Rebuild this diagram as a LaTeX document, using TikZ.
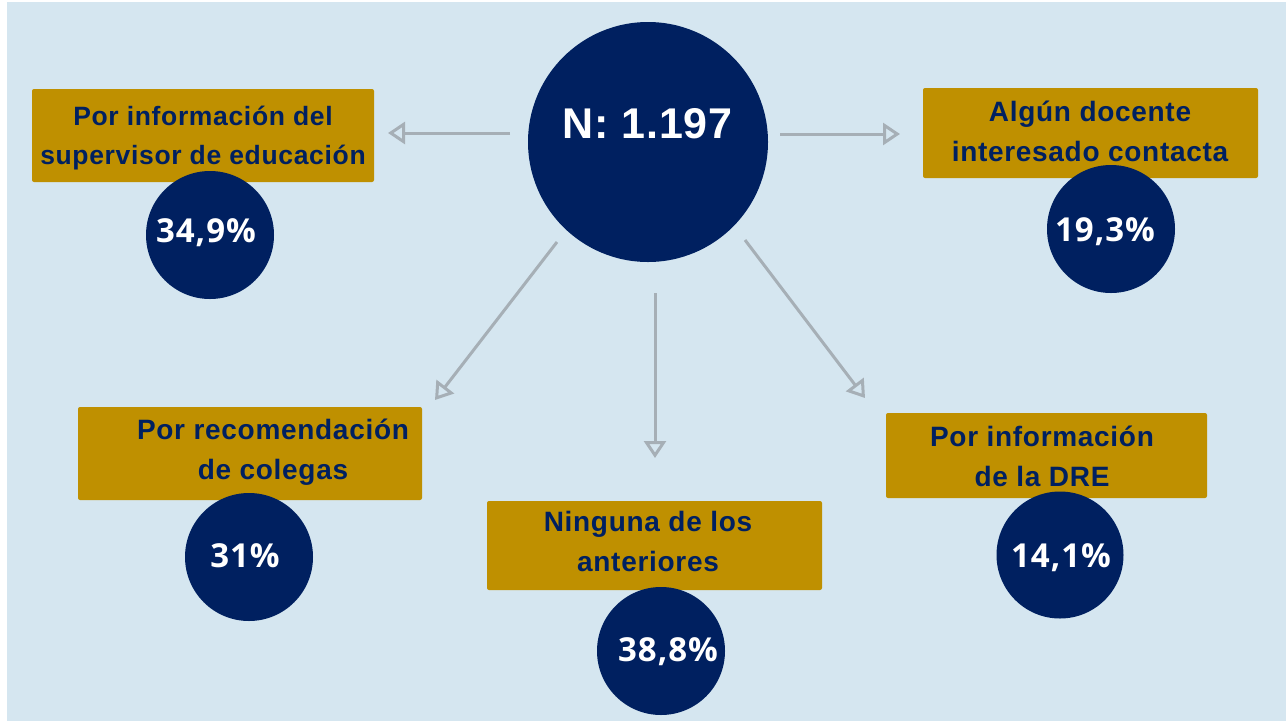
\documentclass[tikz,border=0pt]{standalone}
\usepackage{fontspec}
\setmainfont{Liberation Sans}
\newfontfamily\boxfont{Liberation Sans}[LetterSpace=2.5]
\newfontfamily\bigfont{Liberation Sans}[LetterSpace=2]
\newfontfamily\pctfont{Open Sans}[LetterSpace=3]
\usetikzlibrary{arrows.meta}
\definecolor{bgblue}{HTML}{D5E6F0}
\definecolor{goldbox}{HTML}{BF9000}
\definecolor{navy}{HTML}{002060}
\definecolor{arrowgray}{HTML}{A6AFB6}
\tikzset{
  labelbox/.style={fill=goldbox, rounded corners=2pt, draw=none, inner sep=0pt},
  boxtext/.style={text=navy, font=\boxfont\bfseries\fontsize{28}{40}\selectfont, align=center, inner sep=0pt},
  smallboxtext/.style={boxtext, font=\boxfont\bfseries\fontsize{26.5}{39}\selectfont},
  dot/.style={circle, fill=navy, draw=none, inner sep=0pt},
  pct/.style={text=white, font=\pctfont\bfseries\fontsize{33}{35}\selectfont, inner sep=0pt, anchor=base},
  bigtext/.style={text=white, font=\bigfont\bfseries\fontsize{43}{46}\selectfont, inner sep=0pt, anchor=base},
  conn/.style={draw=arrowgray, line width=3pt, -{Triangle[open, length=17pt, width=22pt]}},
}
\begin{document}
\begin{tikzpicture}[x=1pt, y=-1pt]
\useasboundingbox (0,0) rectangle (1286,721);
\fill[white] (0,0) rectangle (1286,721);
\fill[bgblue] (7,2) rectangle (1286,721);

% boxes
\node[labelbox, minimum width=342pt, minimum height=93pt] (b1) at (203,135.5) {};
\node[labelbox, minimum width=335pt, minimum height=90pt] (b2) at (1090.5,133) {};
\node[labelbox, minimum width=344pt, minimum height=93pt] (b3) at (250,453.5) {};
\node[labelbox, minimum width=335pt, minimum height=89pt] (b4) at (654.5,545.5) {};
\node[labelbox, minimum width=321pt, minimum height=85pt] (b5) at (1046.5,455.5) {};

\node[smallboxtext] (t1) at (203,138.5) {Por información del\\supervisor de educación};
\node[boxtext] (t2) at (1090,131) {Algún docente\\interesado contacta};
\node[boxtext] (t3) at (273,452.5) {Por recomendación\\de colegas};
\node[boxtext] (t4) at (648,541) {Ninguna de los\\anteriores};
\node[boxtext] (t5) at (1042,456) {Por información\\de la DRE};

% circles
\node[dot, minimum size=240pt] (c0) at (648,142) {};
\node[dot, minimum size=128pt] (c1) at (210,235) {};
\node[dot, minimum size=128pt] (c2) at (1111,229) {};
\node[dot, minimum size=128pt] (c3) at (249,557) {};
\node[dot, minimum size=128pt] (c4) at (661,651) {};
\node[dot, minimum size=127pt] (c5) at (1060,555) {};

\node[bigtext] (n0) at (647.5,138) {N: 1.197};
\node[pct] (p1) at (206,242) {34,9\%};
\node[pct] (p2) at (1105,241) {19,3\%};
\node[pct] (p3) at (245,567) {31\%};
\node[pct] (p4) at (668,661) {38,8\%};
\node[pct] (p5) at (1061,567) {14,1\%};

% arrows
\coordinate (a0s) at (510,133); \coordinate (a0e) at (388,133);
\coordinate (a1s) at (780,134); \coordinate (a1e) at (900,134);
\coordinate (a2s) at (655,293); \coordinate (a2e) at (655,458);
\coordinate (a3s) at (557,242); \coordinate (a3e) at (435,400);
\coordinate (a4s) at (745,240); \coordinate (a4e) at (865,398);
\draw[conn] (a0s) -- (a0e);
\draw[conn] (a1s) -- (a1e);
\draw[conn] (a2s) -- (a2e);
\draw[conn] (a3s) -- (a3e);
\draw[conn] (a4s) -- (a4e);
\end{tikzpicture}
\end{document}
